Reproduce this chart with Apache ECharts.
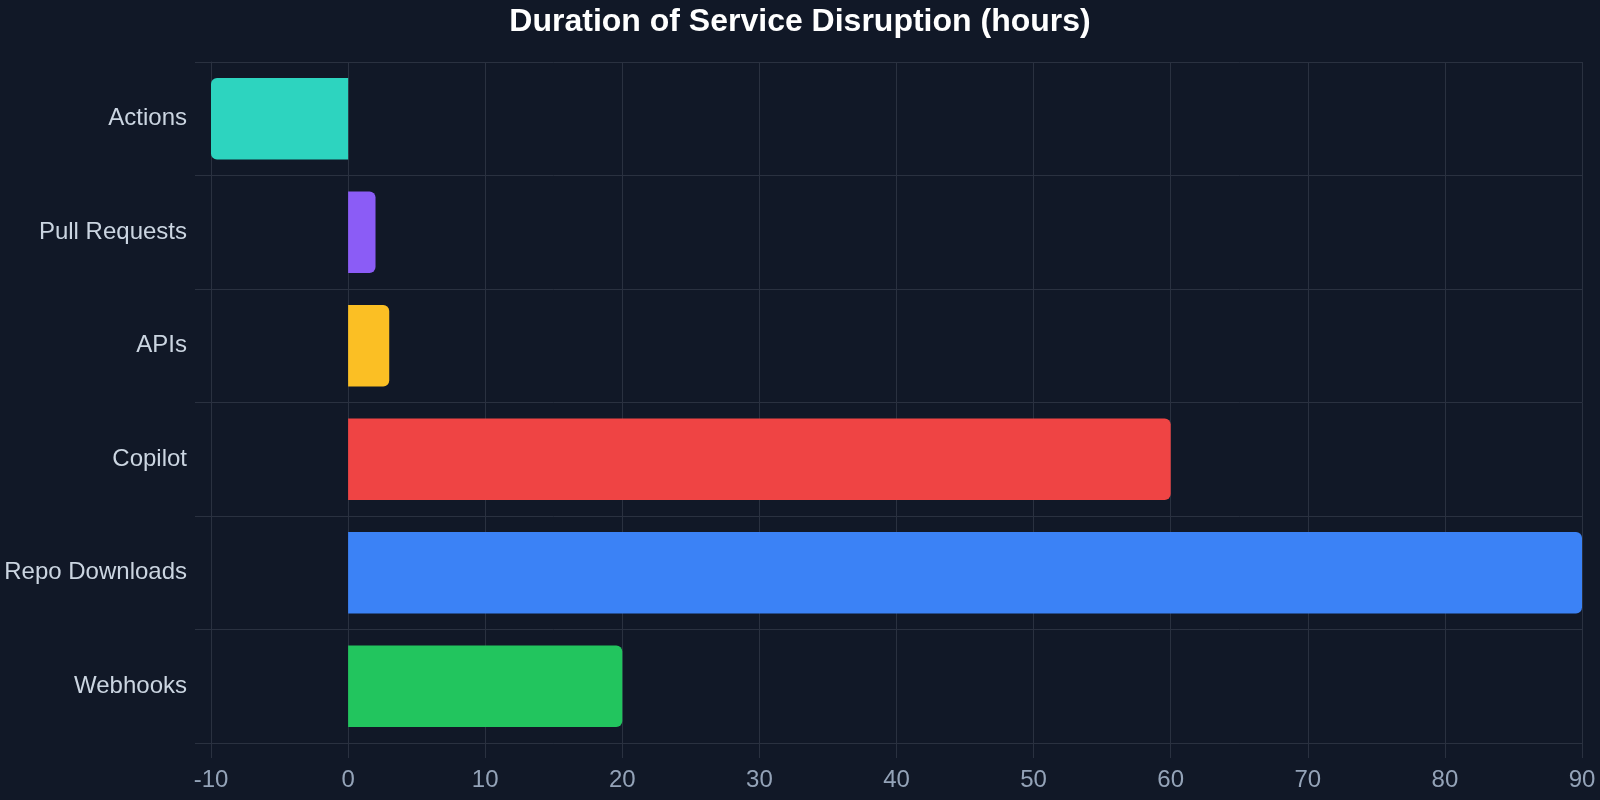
<!DOCTYPE html>
<html>
<head>
    <meta charset="utf-8">
    <title>Service Disruption</title>
    <script src="https://cdn.jsdelivr.net/npm/echarts@6/dist/echarts.min.js"></script>
    <style>
        html, body { margin: 0; padding: 0; background: #111827; }
        #chart { width: 1600px; height: 800px; }
    </style>
</head>
<body>
<div id="chart"></div>
<script>
    // data
    var services = ['Actions', 'Pull Requests', 'APIs', 'Copilot', 'Repo Downloads', 'Webhooks'];
    var hours = [-10, 2, 3, 60, 90, 20];
    var barColors = ['#2dd4bf', '#8b5cf6', '#fbbf24', '#ef4444', '#3b82f6', '#22c55e'];

    var gridColor = '#2a3140';

    var barData = hours.map(function (v, i) {
        return {
            value: v,
            itemStyle: {
                color: barColors[i],
                borderRadius: v < 0 ? [6, 0, 0, 6] : [0, 6, 6, 0]
            }
        };
    });

    var chart = echarts.init(document.getElementById('chart'));
    chart.setOption({
        backgroundColor: '#111827',
        animation: false,
        title: {
            text: 'Duration of Service Disruption (hours)',
            left: 'center',
            top: 1,
            textStyle: { color: '#ffffff', fontSize: 32, fontWeight: 'bold', fontFamily: 'Liberation Sans' }
        },
        grid: { left: 211, right: 18, top: 62, bottom: 57 },
        xAxis: {
            type: 'value',
            min: -10,
            max: 90,
            interval: 10,
            axisLine: { show: true, lineStyle: { color: gridColor } },
            axisTick: { show: true, length: 15, lineStyle: { color: gridColor } },
            splitLine: { show: true, lineStyle: { color: gridColor, width: 1 } },
            axisLabel: { color: '#94a3b8', fontSize: 24, margin: 25, fontFamily: 'Liberation Sans' }
        },
        yAxis: {
            type: 'category',
            data: services,
            inverse: true,
            axisLine: { show: true, onZero: false, lineStyle: { color: gridColor } },
            axisTick: { show: true, length: 16, lineStyle: { color: gridColor } },
            splitLine: { show: true, lineStyle: { color: gridColor, width: 1 } },
            axisLabel: {
                color: '#cbd5e1', fontSize: 24, margin: 24, fontFamily: 'Liberation Sans',
                padding: [5, 0, 0, 0]
            }
        },
        series: [{
            type: 'bar',
            data: barData,
            barWidth: '72%'
        }]
    });
</script>
</body>
</html>
